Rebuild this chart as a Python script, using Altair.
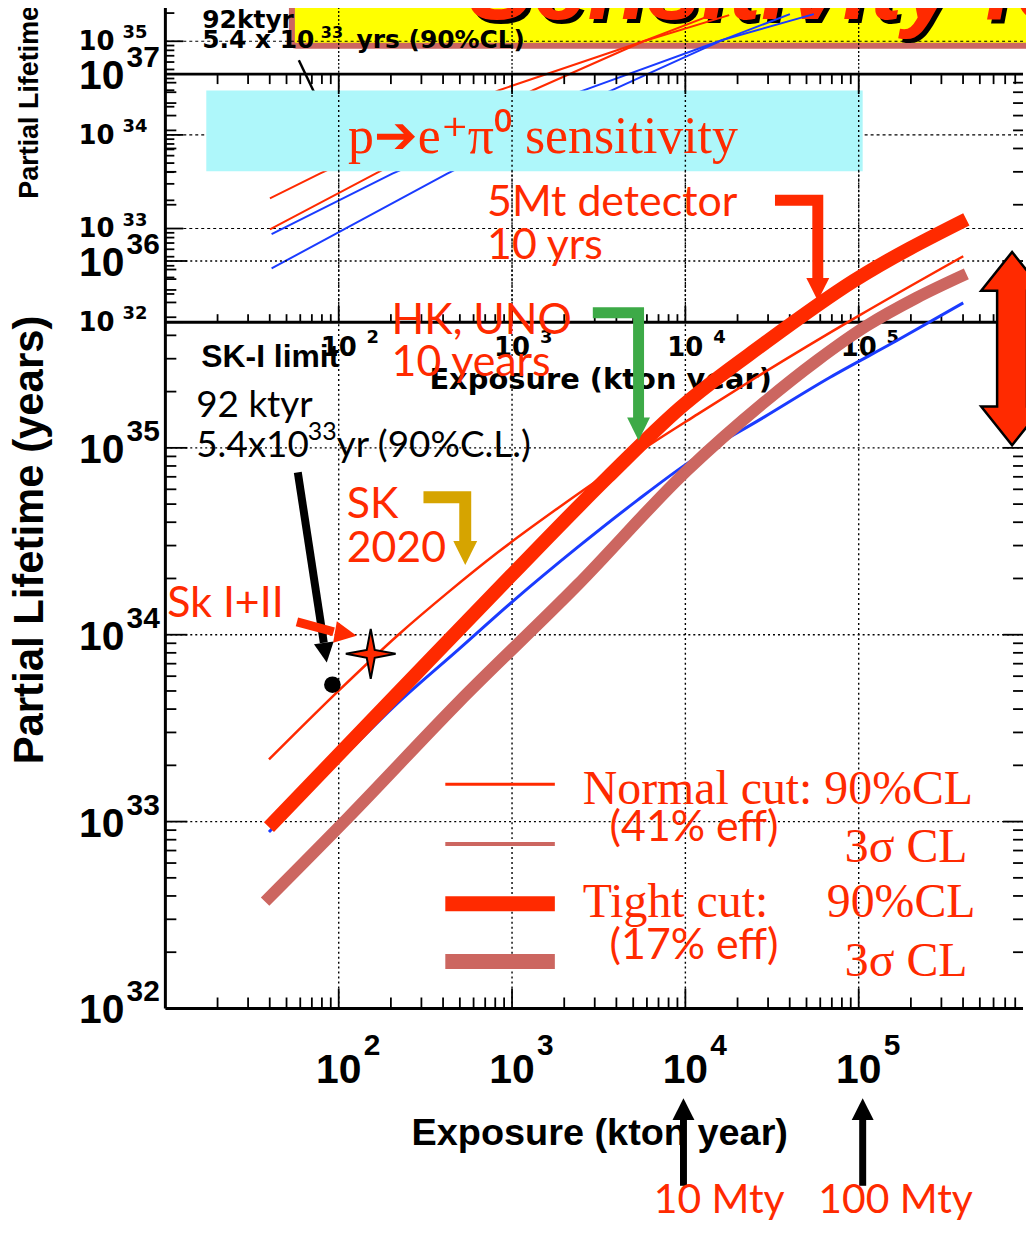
import altair as alt
import pandas as pd

# ---------------- main plot data: exposure (kton*year) vs partial lifetime (years)
normal90_x = [39.6, 100, 221, 429, 832, 1837, 3565, 6053, 11720, 25940, 97520, 401000]
normal90_y = [2.15e33, 5.02e33, 1.0e34, 1.69e34, 2.77e34, 4.75e34, 7.31e34, 1.02e35,
              1.51e35, 2.40e35, 5.02e35, 1.06e36]
tight90_x = [39.6, 221, 986, 3565, 9354, 28440, 93540, 417800]
tight90_y = [9.35e32, 4.91e33, 2.07e34, 6.97e34, 1.64e35, 3.61e35, 7.82e35, 1.67e36]
normal3s_x = [39.6, 100, 221, 490, 986, 2393, 5297, 10260, 28440, 68080, 165200, 401000]
normal3s_y = [8.79e32, 2.10e33, 4.34e33, 8.32e33, 1.48e34, 2.94e34, 5.25e34, 8.26e34,
              1.46e35, 2.38e35, 3.74e35, 5.97e35]
tight3s_x = [37.6, 114, 490, 2393, 10260, 28440, 57410, 111200, 215300, 417800]
tight3s_y = [3.73e32, 1.057e33, 4.34e33, 1.85e34, 7.59e34, 1.75e35, 2.93e35, 4.50e35,
             6.35e35, 8.53e35]

# ---------------- inset (older plot) curves
old_red_a_x = [40.1, 77.8, 841, 5740, 17900]
old_red_a_y = [2.1e33, 3.85e33, 3.0e34, 1.0e35, 1.9e35]
old_red_b_x = [40.1, 163, 1321, 5740, 14100]
old_red_b_y = [9.8e32, 3.85e33, 3.0e34, 1.0e35, 1.9e35]
old_blue_c_x = [41, 204, 2427, 16330, 55100]
old_blue_c_y = [8.7e32, 3.85e33, 2.86e34, 1.03e35, 1.95e35]
old_blue_d_x = [41, 423, 3565, 16330, 40100]
old_blue_d_y = [3.75e32, 3.85e33, 2.86e34, 1.03e35, 1.95e35]

# ---------------- measured points
sk1_x, sk1_y = [92], [5.4e33]
sk12_x, sk12_y = [153], [7.9e33]

# ---------------- tick values / labels
x_major = [1e2, 1e3, 1e4, 1e5]
y_major = [1e33, 1e34, 1e35, 1e36]
x_label_exps = [2, 3, 4, 5]
y_label_exps = [32, 33, 34, 35, 36, 37]
inset_y_exps = [32, 33, 34, 35]
inset_x_exps = [2, 3, 4, 5, 6]

RED = "#FF2A00"
MAUVE = "#CC6660"
BLUE = "#1A3BFF"
GREEN = "#3DAA47"
GOLD = "#D6A400"
CYAN = "#AEF7FA"
YELLOW = "#FFFF00"

HELV = "Liberation Sans, Arial, sans-serif"
WIDE = "DejaVu Sans"
CAL = "Lato, Open Sans, sans-serif"
SERIF = "Liberation Serif, Times New Roman, serif"

XMAX = 10 ** 5.948
XS = alt.Scale(type="log", domain=[10, XMAX], nice=False)
YS = alt.Scale(type="log", domain=[1e32, 1e37], nice=False)
YI = alt.Scale(type="log", domain=[10 ** 24.670, 10 ** 34.649], nice=False)


def E(v):
    return 10.0 ** v


def xy(ys):
    return dict(x=alt.X("x:Q", scale=XS, axis=None), y=alt.Y("y:Q", scale=ys, axis=None))


def line(xs, ys, color, width, ys_scale=YS, join="miter", smooth=False):
    df = pd.DataFrame({"x": xs, "y": ys, "o": list(range(len(xs)))})
    kw = dict(color=color, strokeWidth=width, strokeCap="butt", strokeJoin=join)
    if smooth:
        kw["interpolate"] = "monotone"
    return alt.Chart(df).mark_line(**kw).encode(order="o:Q", **xy(ys_scale))


def rules(rows, ys_scale=YS, **kw):
    df = pd.DataFrame(rows, columns=["x", "x2", "y", "y2"])
    return alt.Chart(df).mark_rule(**kw).encode(
        x=alt.X("x:Q", scale=XS, axis=None), x2="x2:Q",
        y=alt.Y("y:Q", scale=ys_scale, axis=None), y2="y2:Q")


def rect(x, x2, y, y2, ys_scale=YS, **kw):
    df = pd.DataFrame({"x": [x], "x2": [x2], "y": [y], "y2": [y2]})
    return alt.Chart(df).mark_rect(**kw).encode(
        x=alt.X("x:Q", scale=XS, axis=None), x2="x2:Q",
        y=alt.Y("y:Q", scale=ys_scale, axis=None), y2="y2:Q")


def texts(rows, ys_scale=YS, **kw):
    df = pd.DataFrame(rows, columns=["x", "y", "t"])
    base = dict(baseline="alphabetic", align="left")
    base.update(kw)
    return alt.Chart(df).mark_text(**base).encode(text="t:N", **xy(ys_scale))


def points(xs, ys, ys_scale=YS, **kw):
    df = pd.DataFrame({"x": xs, "y": ys})
    return alt.Chart(df).mark_point(**kw).encode(**xy(ys_scale))


def ticks(xs, ys, path, length, ys_scale=YS):
    return points(xs, ys, ys_scale, shape=path, size=length ** 2, filled=False,
                  color="black", strokeWidth=1.8, opacity=1)


HEAD = "M0,0L-1,-2L1,-2Z"


def head(x, y, width, angle, color, ys_scale=YS):
    return points([x], [y], ys_scale, shape=HEAD, size=width ** 2, angle=angle,
                  filled=True, color=color, opacity=1, strokeWidth=0)


STAR = "M0,-1L0.16,-0.16L1,0L0.16,0.16L0,1L-0.16,0.16L-1,0L-0.16,-0.16Z"
DOUBLE = ("M0,-1L0.32,-0.6L0.155,-0.6L0.155,0.6L0.32,0.6L0,1L-0.32,0.6L-0.155,0.6"
          "L-0.155,-0.6L-0.32,-0.6Z")

main_x_minor = [m * 10.0 ** k for k in range(1, 6) for m in range(2, 10) if m * 10.0 ** k <= XMAX]
main_y_minor = [m * 10.0 ** k for k in range(32, 37) for m in range(2, 10)]
inset_y_minor = [m * 10.0 ** k for k in range(32, 35) for m in range(2, 10)] + [2e35]
inset_y_major = [1e32, 1e33, 1e34, 1e35]

L = []
# ---------- banner (yellow) ----------
L.append(rect(E(1.730), E(6.3), E(37.152), E(37.6), YS, fill=YELLOW, stroke=MAUVE,
              strokeWidth=6, cornerRadius=4))
L.append(texts([(E(2.747), E(37.296), "Sensitivity for")], YS, font=HELV,
               fontSize=98, fontWeight="bold", fontStyle="italic", color="black", dx=4, dy=4))
L.append(texts([(E(2.747), E(37.296), "Sensitivity for")], YS, font=HELV,
               fontSize=98, fontWeight="bold", fontStyle="italic", color=RED))

# ---------- inset (old plot) ----------
L.append(rules([(10, XMAX, v, v) for v in [1e33, 1e34, 1e35]], YI, color="black",
               strokeWidth=1.2, strokeDash=[3, 3]))
L.append(rules([(v, v, E(35.45), 1e32) for v in x_major], YI, color="black",
               strokeWidth=1.3, strokeDash=[2, 2]))
L.append(rules([(10, XMAX, 1e32, 1e32)], YI, color="black", strokeWidth=3))
L.append(ticks([10] * len(inset_y_minor), inset_y_minor, "M0,0H2", 9, YI))
L.append(ticks([10] * len(inset_y_major), inset_y_major, "M0,0H2", 18, YI))
L.append(ticks(main_x_minor, [1e32] * len(main_x_minor), "M0,0V-2", 8, YI))
L.append(ticks(x_major, [1e32] * len(x_major), "M0,0V-2", 16, YI))
L.append(line(old_red_a_x, old_red_a_y, RED, 2, YI, join="round"))
L.append(line(old_red_b_x, old_red_b_y, RED, 2, YI, join="round"))
L.append(line(old_blue_c_x, old_blue_c_y, BLUE, 2, YI, join="round"))
L.append(line(old_blue_d_x, old_blue_d_y, BLUE, 2, YI, join="round"))
L.append(texts([(E(0.707), 10.0 ** k, "10") for k in inset_y_exps], YI, font=WIDE,
               fontWeight="bold", fontSize=26, align="right", dy=9))
L.append(texts([(E(0.753), 10.0 ** k, str(k)) for k in inset_y_exps], YI, font=WIDE,
               fontWeight="bold", fontSize=18, dy=-3))
L.append(texts([(10.0 ** k, 1e32, "10") for k in inset_x_exps], YI, font=WIDE,
               fontWeight="bold", fontSize=26, align="center", dy=34))
L.append(texts([(10.0 ** (k + 0.161), 1e32, str(k)) for k in inset_x_exps], YI, font=WIDE,
               fontWeight="bold", fontSize=18, dy=21))
L.append(texts([(E(3.511), E(31.287), "Exposure (kton year)")], YI, font=WIDE,
               fontWeight="bold", fontSize=29, align="center"))
L.append(texts([(E(0.218), E(33.319), "Partial Lifetime (years)")], YI, font=HELV,
               fontWeight="bold", fontSize=27, angle=270, baseline="middle"))
L.append(texts([(E(1.213), E(35.138), "92ktyr"), (E(1.213), E(34.926), "5.4 x 10"),
                (E(2.103), E(34.926), "yrs (90%CL)")], YI, font=WIDE, fontWeight="bold",
               fontSize=25))
L.append(texts([(E(1.897), E(35.032), "33")], YI, font=WIDE, fontWeight="bold", fontSize=16))
L.append(line([E(1.770), E(1.885)], [E(34.798), E(34.351)], "black", 2.5, YI))

# ---------- cyan caption box ----------
L.append(rect(E(1.236), E(5.023), E(36.48), E(36.912), YS, fill=CYAN))
L.append(texts([(E(3.178), E(36.576), "p➔e⁺π⁰ sensitivity")], YS, font=SERIF,
               fontSize=52, color=RED, align="center"))

# ---------- main frame, grid, ticks ----------
L.append(rules([(v, v, 1e32, 1e37) for v in x_major], YS, color="black", strokeWidth=1.4,
               strokeDash=[2, 3]))
L.append(rules([(10, XMAX, v, v) for v in y_major], YS, color="black", strokeWidth=1.4,
               strokeDash=[2, 3]))
L.append(rules([(10, 10, 1e32, E(37.5)), (10, XMAX, 1e32, 1e32), (10, XMAX, 1e37, 1e37)],
               YS, color="black", strokeWidth=3))
L.append(ticks([10] * len(main_y_minor), main_y_minor, "M0,0H2", 11))
L.append(ticks([10] * len(y_major), y_major, "M0,0H2", 22))
L.append(ticks([XMAX] * len(main_y_minor), main_y_minor, "M0,0H-2", 10))
L.append(ticks([XMAX] * len(y_major), y_major, "M0,0H-2", 20))
L.append(ticks(main_x_minor, [1e32] * len(main_x_minor), "M0,0V-2", 11))
L.append(ticks(x_major, [1e32] * len(x_major), "M0,0V-2", 20))
L.append(ticks(main_x_minor, [1e37] * len(main_x_minor), "M0,0V2", 10))
L.append(ticks(x_major, [1e37] * len(x_major), "M0,0V2", 20))

# axis labels
L.append(texts([(E(0.764), 10.0 ** k, "10") for k in y_label_exps], YS, font=HELV,
               fontWeight="bold", fontSize=41, align="right", dy=15))
L.append(texts([(E(0.776), 10.0 ** k, str(k)) for k in y_label_exps], YS, font=HELV,
               fontWeight="bold", fontSize=30, dy=-7))
L.append(texts([(10.0 ** k, 1e32, "10") for k in x_label_exps], YS, font=HELV,
               fontWeight="bold", fontSize=41, align="center", dy=75))
L.append(texts([(10.0 ** (k + 0.144), 1e32, str(k)) for k in x_label_exps], YS, font=HELV,
               fontWeight="bold", fontSize=30, dy=47))
L.append(texts([(E(3.506), E(31.269), "Exposure (kton year)")], YS, font=HELV,
               fontWeight="bold", fontSize=38, align="center"))
L.append(texts([(E(0.218), E(34.507), "Partial Lifetime (years)")], YS, font=HELV,
               fontWeight="bold", fontSize=42, angle=270, baseline="middle", align="center"))
L.append(texts([(E(1.207), E(35.435), "SK-I limit")], YS, font=HELV,
               fontWeight="bold", fontSize=32))

# ---------- main curves ----------
L.append(line(normal3s_x, normal3s_y, BLUE, 3, join="round", smooth=True))
L.append(line(tight3s_x, tight3s_y, MAUVE, 12, join="round", smooth=True))
L.append(line(tight90_x, tight90_y, RED, 14, join="round", smooth=True))
L.append(line(normal90_x, normal90_y, RED, 2.5, join="round", smooth=True))

# ---------- legend ----------
leg_x1, leg_x2 = E(2.615), E(3.247)
L.append(rules([(leg_x1, leg_x2, E(33.2), E(33.2))], YS, color=RED, strokeWidth=3))
L.append(rules([(leg_x1, leg_x2, E(32.88), E(32.88))], YS, color=MAUVE, strokeWidth=4))
L.append(rules([(leg_x1, leg_x2, E(32.56), E(32.56))], YS, color=RED, strokeWidth=15))
L.append(rules([(leg_x1, leg_x2, E(32.251), E(32.251))], YS, color=MAUVE, strokeWidth=15))
L.append(texts([(E(3.408), E(33.093), "Normal cut: 90%CL"), (E(4.920), E(32.784), "3σ CL"),
                (E(3.408), E(32.491), "Tight cut:"), (E(4.816), E(32.491), "90%CL"),
                (E(4.920), E(32.176), "3σ CL")], YS, font=SERIF, fontSize=48, color=RED))
L.append(texts([(E(3.563), E(32.896), "(41% eff)"), (E(3.563), E(32.267), "(17% eff)")], YS,
               font=CAL, fontSize=43, color=RED))

# ---------- annotations ----------
L.append(texts([(E(2.856), E(36.24), "5Mt detector"), (E(2.856), E(36.011), "10 yrs"),
                (E(2.305), E(35.611), "HK, UNO"), (E(2.305), E(35.387), "10 years"),
                (E(2.046), E(34.624), "SK"), (E(2.046), E(34.389), "2020"),
                (E(1.011), E(34.096), "Sk I+II")], YS, font=CAL, fontSize=43, color=RED))
L.append(texts([(E(1.178), E(35.163), "92 ktyr"), (E(1.178), E(34.949), "5.4x10"),
                (E(1.989), E(34.949), "yr (90%C.L.)")], YS, font=CAL, fontSize=37,
               color="black"))
L.append(texts([(E(1.822), E(35.04), "33")], YS, font=CAL, fontSize=25, color="black"))

# bent arrows
L.append(line([E(2.489), E(2.730), E(2.730)], [E(34.736), E(34.736), E(34.496)], GOLD, 12))
L.append(head(E(2.730), E(34.373), 24, 0, GOLD))
L.append(line([E(3.466), E(3.730), E(3.730)], [E(35.723), E(35.723), E(35.157)], GREEN, 11))
L.append(head(E(3.730), E(35.04), 23, 0, GREEN))
L.append(line([E(4.517), E(4.764), E(4.764)], [E(36.325), E(36.325), E(35.904)], RED, 11))
L.append(head(E(4.764), E(35.787), 23, 0, RED))
# straight arrows
L.append(line([E(1.764), E(1.914)], [E(34.869), E(33.957)], "black", 8))
L.append(head(E(1.931), E(33.851), 20, 351.5, "black"))
L.append(line([E(1.759), E(1.971)], [E(34.069), E(34.016)], RED, 9))
L.append(head(E(2.103), E(33.995), 22, 279.8, RED))

# data points
L.append(points(sk1_x, sk1_y, YS, shape="circle", size=280, filled=True, color="black",
                opacity=1))
L.append(points(sk12_x, sk12_y, YS, shape=STAR, size=2500, filled=True, fill=RED,
                stroke="black", strokeWidth=2, opacity=1))

# big double arrow at right
L.append(points([E(5.885)], [E(35.531)], YS, shape=DOUBLE, size=194 ** 2, filled=True,
                fill=RED, stroke="black", strokeWidth=2.5, opacity=1))

# bottom exposure markers
L.append(line([E(3.989), E(3.989)], [E(31.403), E(31.051)], "black", 7))
L.append(head(E(3.989), E(31.52), 22, 180, "black"))
L.append(line([E(5.023), E(5.023)], [E(31.403), E(31.051)], "black", 7))
L.append(head(E(5.023), E(31.52), 22, 180, "black"))
L.append(texts([(E(4.195), E(30.905), "10 Mty"), (E(5.213), E(30.905), "100 Mty")], YS,
               font=CAL, fontSize=41, color=RED, align="center"))

chart = alt.layer(*L).resolve_scale(y="independent").properties(
    width=861, height=938,
    padding={"left": 158, "top": 64, "right": 3, "bottom": 212},
    autosize=alt.AutoSizeParams(type="none"),
).configure_view(stroke=None)

chart.save("out.html", embed_options={"renderer": "svg", "actions": False})
